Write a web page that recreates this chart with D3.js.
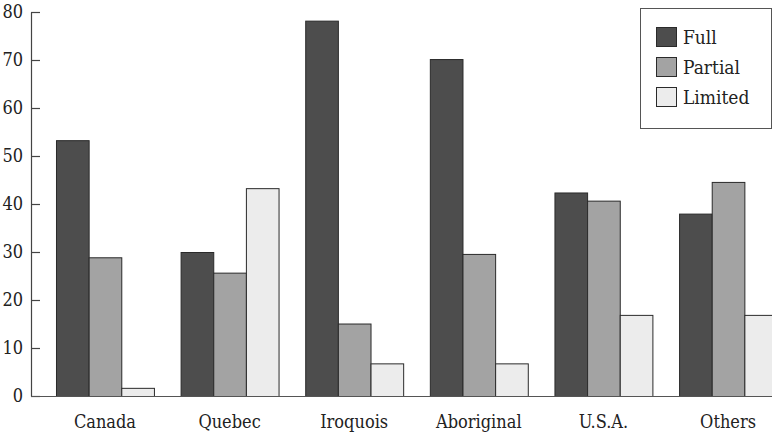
<!DOCTYPE html>
<html>
<head>
<meta charset="utf-8">
<script src="https://cdn.jsdelivr.net/npm/d3@7"></script>
<style>
  html, body { margin: 0; padding: 0; background: #fff; }
  svg { display: block; }
  text { font-family: "DejaVu Serif Condensed", "DejaVu Serif", serif; font-stretch: condensed; fill: #222; }
</style>
</head>
<body>
<svg id="chart" width="772" height="434"></svg>
<script>
const categories = ["Canada", "Quebec", "Iroquois", "Aboriginal", "U.S.A.", "Others"];
const series = ["Full", "Partial", "Limited"];
const fullValues = [53.3, 30.0, 78.2, 70.2, 42.4, 38.0];
const partialValues = [28.9, 25.7, 15.1, 29.6, 40.7, 44.6];
const limitedValues = [1.7, 43.3, 6.8, 6.8, 16.9, 16.9];
const yTicks = [0, 10, 20, 30, 40, 50, 60, 70, 80];
const colors = ["#4d4d4d", "#a3a3a3", "#ececec"];

const valuesBySeries = [fullValues, partialValues, limitedValues];
const data = categories.map((c, i) => ({
  category: c,
  values: series.map((s, j) => ({ series: s, value: valuesBySeries[j][i] }))
}));

const svg = d3.select("#chart");
const axisX = 31, baseY = 396, topY = 12;

const y = d3.scaleLinear().domain([0, 80]).range([baseY, topY]);
const x0 = d3.scaleBand().domain(categories).range([axisX, 802])
  .paddingInner(0.214).paddingOuter(0.2005);
const x1 = d3.scaleBand().domain(series).range([0, x0.bandwidth()]).padding(0);
const color = d3.scaleOrdinal().domain(series).range(colors);

// bars
const groups = svg.append("g").selectAll("g").data(data).join("g")
  .attr("transform", d => `translate(${x0(d.category)},0)`);
groups.selectAll("rect").data(d => d.values).join("rect")
  .attr("x", d => x1(d.series) + 0.5)
  .attr("y", d => y(d.value) + 0.5)
  .attr("width", x1.bandwidth())
  .attr("height", d => baseY - y(d.value))
  .attr("fill", d => color(d.series))
  .attr("stroke", "#2a2a2a")
  .attr("stroke-width", 1);

// y axis
const yAxis = d3.axisLeft(y).tickValues(yTicks).tickSizeInner(-9).tickSizeOuter(0).tickPadding(8);
const gy = svg.append("g").attr("transform", `translate(${axisX},0)`).call(yAxis);
gy.select(".domain").attr("stroke", "#444").attr("stroke-width", 1.2);
gy.selectAll(".tick line").attr("stroke", "#444").attr("stroke-width", 1.2);
gy.selectAll(".tick text").attr("font-size", 18).attr("font-family", null).attr("fill", "#222");

// baseline
svg.append("line").attr("x1", axisX).attr("x2", 772).attr("y1", baseY + 0.5).attr("y2", baseY + 0.5)
  .attr("stroke", "#555").attr("stroke-width", 1.2);

// x labels
svg.append("g").selectAll("text").data(categories).join("text")
  .attr("x", d => x0(d) + x0.bandwidth() / 2)
  .attr("y", 428)
  .attr("text-anchor", "middle")
  .attr("font-size", 18)
  .text(d => d);

// legend
const lg = svg.append("g");
lg.append("rect").attr("x", 640.5).attr("y", 8.5).attr("width", 131).attr("height", 120)
  .attr("fill", "#fff").attr("stroke", "#555").attr("stroke-width", 1);
const items = lg.selectAll("g.item").data(series).join("g").attr("class", "item")
  .attr("transform", (d, i) => `translate(656,${27 + i * 30})`);
items.append("rect").attr("x", 0.5).attr("y", 0.5).attr("width", 20).attr("height", 19)
  .attr("fill", d => color(d)).attr("stroke", "#2a2a2a");
items.append("text").attr("x", 27).attr("y", 17).attr("font-size", 19).text(d => d);
</script>
</body>
</html>
